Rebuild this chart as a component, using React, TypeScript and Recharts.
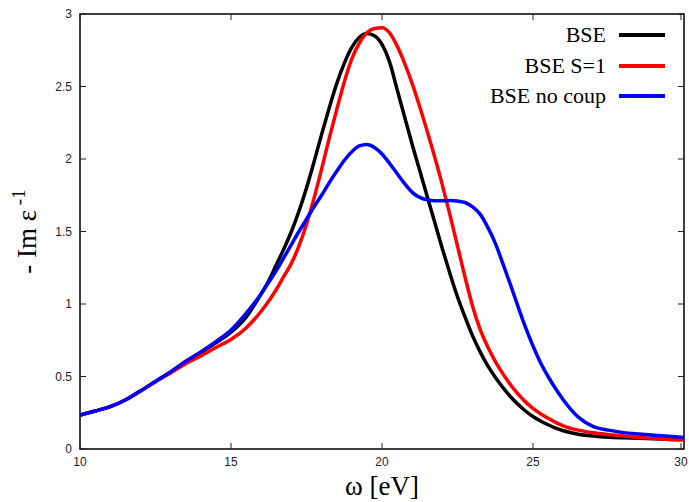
import React from 'react';
import { LineChart, Line, XAxis, YAxis, ReferenceArea } from 'recharts';

// photon energy grid (eV), finer around the plasmon peak
const omega = [
  10, 10.5, 11, 11.5, 12, 12.5, 13, 13.5, 14, 14.5, 15, 15.5, 16,
  16.25, 16.5, 16.75, 17, 17.25, 17.5, 17.75, 18, 18.25, 18.5, 18.75, 19, 19.25, 19.5, 19.75,
  20, 20.25, 20.5, 20.75, 21, 21.25, 21.5, 21.75, 22, 22.25, 22.5, 22.75, 23, 23.25, 23.5, 23.75,
  24, 24.25, 24.5, 24.75, 25, 25.25, 25.5, 25.75, 26,
  26.5, 27, 27.5, 28, 28.5, 29, 29.5, 30,
];

const bse = [
  0.234, 0.262, 0.292, 0.338, 0.4, 0.466, 0.532, 0.6, 0.665, 0.732, 0.805, 0.91, 1.07,
  1.16, 1.27, 1.38, 1.5, 1.64, 1.8, 1.98, 2.17, 2.35, 2.52, 2.66, 2.77, 2.84, 2.866, 2.85,
  2.79, 2.67, 2.48, 2.29, 2.1, 1.92, 1.74, 1.56, 1.38, 1.21, 1.05, 0.91, 0.78, 0.67, 0.575, 0.495,
  0.425, 0.362, 0.308, 0.262, 0.224, 0.193, 0.167, 0.144, 0.126,
  0.102, 0.089, 0.081, 0.077, 0.074, 0.071, 0.068, 0.066,
];

const bseS1 = [
  0.234, 0.262, 0.292, 0.338, 0.4, 0.464, 0.525, 0.588, 0.642, 0.7, 0.755, 0.835, 0.95,
  1.02, 1.1, 1.19, 1.28, 1.4, 1.55, 1.73, 1.93, 2.14, 2.34, 2.53, 2.69, 2.8, 2.87, 2.9,
  2.905, 2.87, 2.78, 2.66, 2.52, 2.36, 2.19, 2.01, 1.82, 1.615, 1.4, 1.185, 0.985, 0.825, 0.705, 0.605,
  0.52, 0.445, 0.38, 0.325, 0.28, 0.243, 0.212, 0.184, 0.16,
  0.13, 0.112, 0.1, 0.09, 0.08, 0.072, 0.066, 0.062,
];

const bseNoCoup = [
  0.234, 0.262, 0.292, 0.338, 0.4, 0.466, 0.532, 0.605, 0.67, 0.74, 0.82, 0.935, 1.07,
  1.15, 1.23, 1.32, 1.41, 1.5, 1.585, 1.67, 1.75, 1.835, 1.915, 1.99, 2.05, 2.09, 2.1, 2.08,
  2.035, 1.97, 1.9, 1.83, 1.77, 1.735, 1.718, 1.712, 1.712, 1.713, 1.71, 1.7, 1.67, 1.62, 1.53, 1.42,
  1.28, 1.135, 0.985, 0.84, 0.71, 0.595, 0.5, 0.415, 0.34,
  0.22, 0.155, 0.13, 0.113, 0.103, 0.095, 0.088, 0.08,
];

const seriesNames = ['BSE', 'BSE S=1', 'BSE no coup'];
const seriesKeys = ['bse', 'bseS1', 'bseNoCoup'];
const seriesColors = ['#000000', '#ff0000', '#0000ff'];

const xTicks = [10, 15, 20, 25, 30];
const yTicks = [0, 0.5, 1, 1.5, 2, 2.5, 3];

const data = omega.map((w, i) => ({
  omega: w,
  bse: bse[i],
  bseS1: bseS1[i],
  bseNoCoup: bseNoCoup[i],
}));

const W = 689;
const H = 502;
const LEFT = 80;
const RIGHT = 684;
const TOP = 14;
const BOTTOM = 449;
const TICK = 6;

const YTick = (props: any) => {
  const { y, payload } = props;
  return (
    <g>
      <line x1={LEFT} x2={LEFT + TICK} y1={y} y2={y} stroke="#222" strokeWidth={1} />
      <line x1={RIGHT} x2={RIGHT - TICK} y1={y} y2={y} stroke="#222" strokeWidth={1} />
      <text x={LEFT - 8} y={y} dy="0.35em" textAnchor="end" fontSize={12}
        fontFamily="Liberation Sans, Arial, sans-serif" fill="#222">
        {payload.value}
      </text>
    </g>
  );
};

const XTick = (props: any) => {
  const { x, payload } = props;
  return (
    <g>
      <line x1={x} x2={x} y1={BOTTOM} y2={BOTTOM - TICK} stroke="#222" strokeWidth={1} />
      <line x1={x} x2={x} y1={TOP} y2={TOP + TICK} stroke="#222" strokeWidth={1} />
      <text x={x} y={BOTTOM + 8} dy="0.71em" textAnchor="middle" fontSize={12}
        fontFamily="Liberation Sans, Arial, sans-serif" fill="#222">
        {payload.value}
      </text>
    </g>
  );
};

const YLabel = () => (
  <text
    transform={`translate(36, ${(TOP + BOTTOM) / 2}) rotate(-90)`}
    textAnchor="middle"
    fontSize={27}
    fontFamily="Liberation Serif, Times New Roman, serif"
    fill="#000"
  >
    - Im ε
    <tspan dy={-11} fontSize={19}> -1</tspan>
  </text>
);

const XLabel = () => (
  <text
    x={(LEFT + RIGHT) / 2}
    y={495}
    textAnchor="middle"
    fontSize={27}
    fontFamily="Liberation Serif, Times New Roman, serif"
    fill="#000"
  >
    ω [eV]
  </text>
);

const LegendBox = () => (
  <div
    style={{
      position: 'absolute',
      top: 20,
      right: 24,
      fontFamily: 'Liberation Serif, Times New Roman, serif',
      fontSize: 22,
      lineHeight: '30px',
    }}
  >
    {seriesNames.map((name, i) => (
      <div key={name} style={{ display: 'flex', alignItems: 'center', justifyContent: 'flex-end', height: 30.5 }}>
        <span style={{ color: '#000' }}>{name}</span>
        <span style={{ display: 'inline-block', width: 46, height: 4, background: seriesColors[i], marginLeft: 13 }} />
      </div>
    ))}
  </div>
);

export default function App() {
  return (
    <div style={{ position: 'absolute', left: 0, top: 0, width: W, height: H, background: '#fff' }}>
      <LineChart
        width={W}
        height={H}
        data={data}
        margin={{ top: TOP, right: W - RIGHT, bottom: 0, left: 0 }}
      >
        <XAxis
          dataKey="omega"
          type="number"
          domain={[10, 30]}
          ticks={xTicks}
          allowDataOverflow
          axisLine={false}
          tickLine={false}
          tick={<XTick />}
          height={H - BOTTOM}
          label={<XLabel />}
        />
        <YAxis
          type="number"
          domain={[0, 3]}
          ticks={yTicks}
          allowDataOverflow
          axisLine={false}
          tickLine={false}
          tick={<YTick />}
          width={LEFT}
          label={<YLabel />}
        />
        <ReferenceArea x1={10} x2={30} y1={0} y2={3} fill="none" stroke="#000" strokeWidth={1.5} ifOverflow="visible" />
        {seriesKeys.map((k, i) => (
          <Line
            key={k}
            type="monotone"
            dataKey={k}
            name={seriesNames[i]}
            stroke={seriesColors[i]}
            strokeWidth={3.5}
            dot={false}
            isAnimationActive={false}
          />
        ))}
      </LineChart>
      <LegendBox />
    </div>
  );
}
